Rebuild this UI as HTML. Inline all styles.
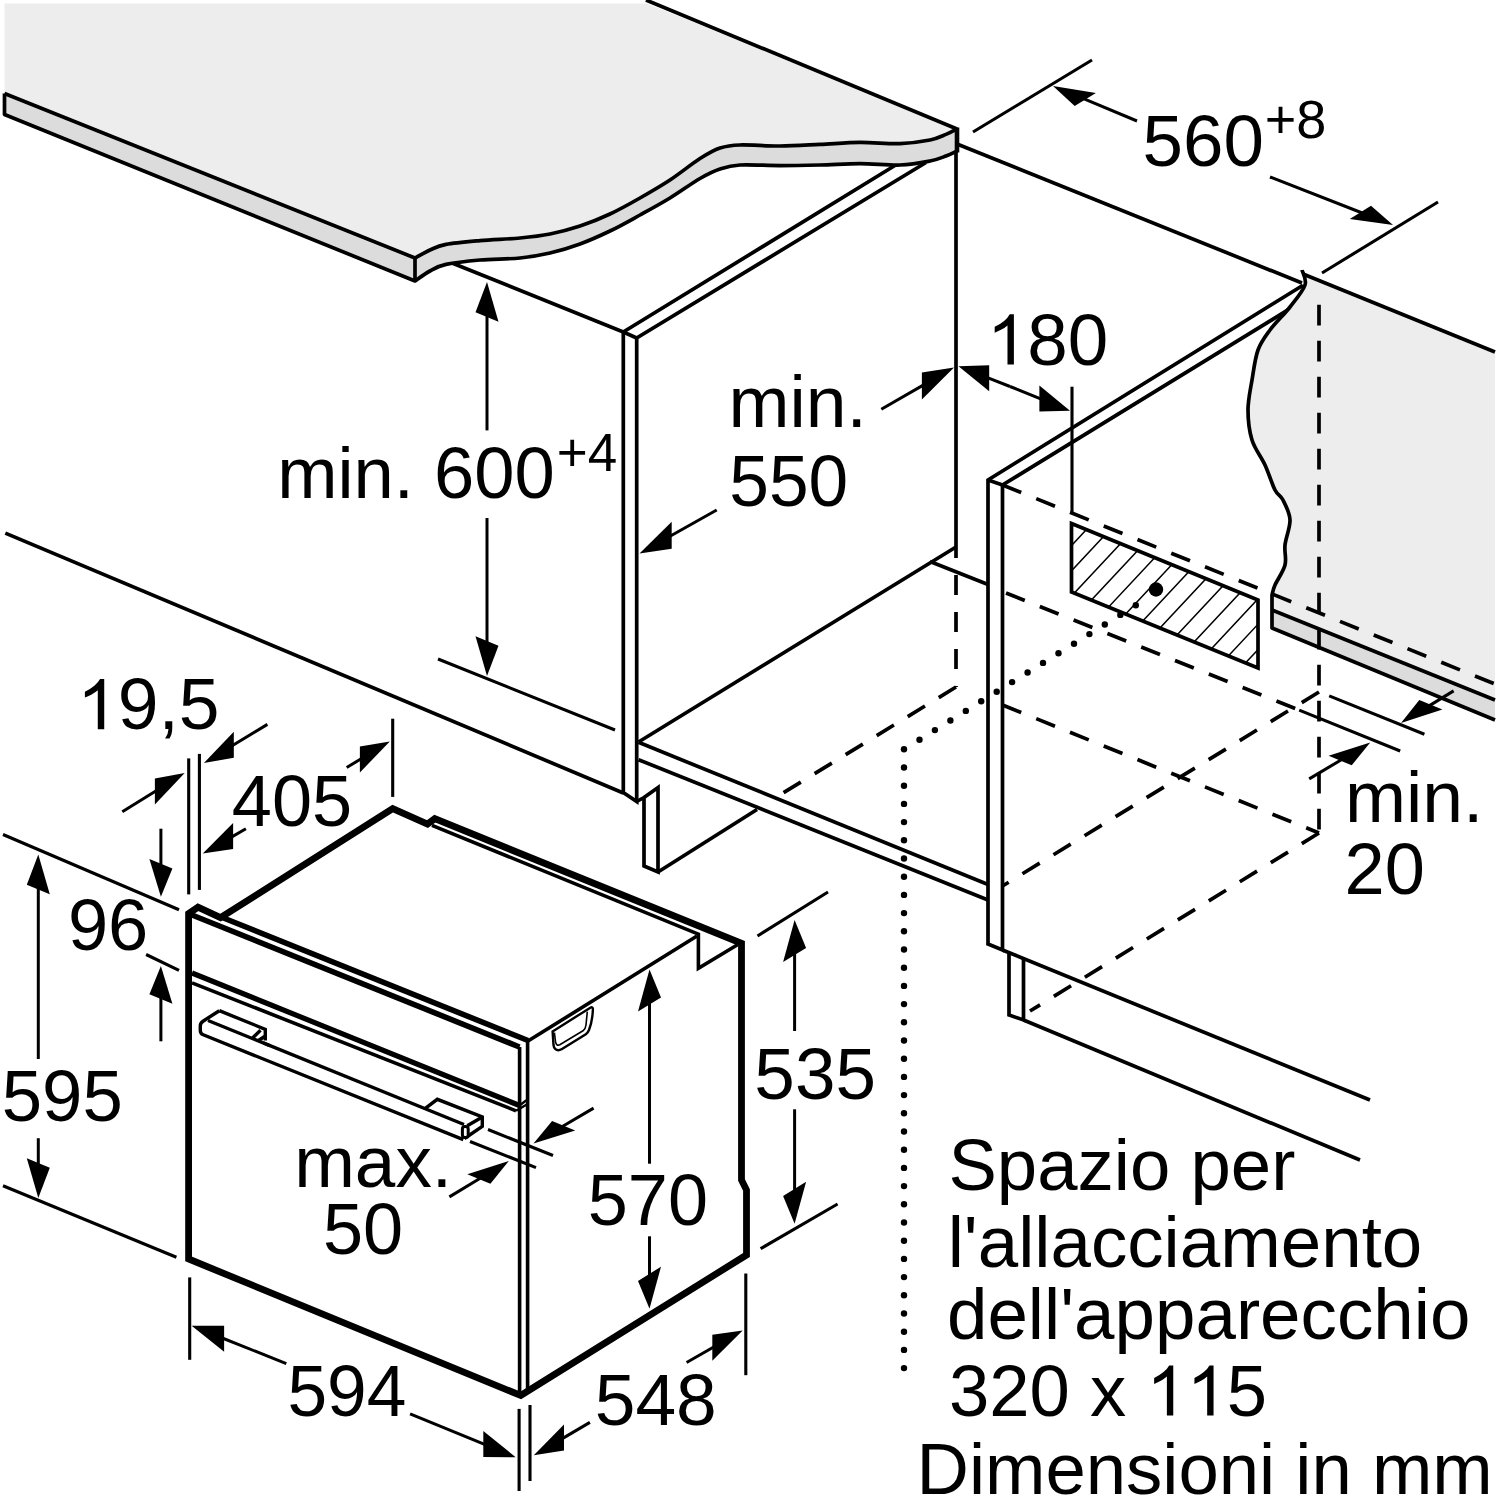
<!DOCTYPE html>
<html><head><meta charset="utf-8"><title>Schema di incasso</title>
<style>
html,body{margin:0;padding:0;background:#fff;}
svg{display:block;}
text{font-family:"Liberation Sans",sans-serif;fill:#000;}
</style></head>
<body>
<svg width="1500" height="1498" viewBox="0 0 1500 1498">
<rect width="1500" height="1498" fill="#fff"/>
<line x1="957.0" y1="144.0" x2="1302.0" y2="283.0" stroke="#000" stroke-width="3.7" stroke-linecap="butt"/>
<line x1="956.0" y1="129.0" x2="956.0" y2="558.0" stroke="#000" stroke-width="3.7" stroke-linecap="butt"/>
<line x1="956.0" y1="575.0" x2="956.0" y2="687.0" stroke="#000" stroke-width="3.7" stroke-linecap="butt" stroke-dasharray="20 17"/>
<line x1="452.0" y1="263.0" x2="623.3" y2="332.0" stroke="#000" stroke-width="3.7" stroke-linecap="butt"/>
<polyline points="899.0,163.0 623.3,332.0 623.3,792.5 636.7,801.5 636.7,338.0 926.0,162.5" fill="none" stroke="#000" stroke-width="3.7" stroke-linejoin="miter" stroke-linecap="butt"/>
<line x1="623.3" y1="332.0" x2="636.7" y2="338.0" stroke="#000" stroke-width="3.7" stroke-linecap="butt"/>
<line x1="5.3" y1="533.1" x2="623.3" y2="793.0" stroke="#000" stroke-width="3.7" stroke-linecap="butt"/>
<line x1="438.0" y1="659.0" x2="615.0" y2="730.0" stroke="#000" stroke-width="3.1" stroke-linecap="butt"/>
<polyline points="636.7,801.5 644.0,797.5 644.0,866.0 658.0,872.0 658.0,787.5 644.0,797.5" fill="none" stroke="#000" stroke-width="3.7" stroke-linejoin="miter" stroke-linecap="butt"/>
<line x1="658.0" y1="872.0" x2="757.0" y2="809.5" stroke="#000" stroke-width="3.7" stroke-linecap="butt"/>
<line x1="638.5" y1="742.3" x2="988.0" y2="884.5" stroke="#000" stroke-width="3.7" stroke-linecap="butt"/>
<line x1="638.5" y1="759.7" x2="988.0" y2="900.0" stroke="#000" stroke-width="3.7" stroke-linecap="butt"/>
<line x1="638.5" y1="742.0" x2="956.0" y2="547.0" stroke="#000" stroke-width="3.7" stroke-linecap="butt"/>
<line x1="930.0" y1="561.5" x2="988.0" y2="584.5" stroke="#000" stroke-width="3.7" stroke-linecap="butt"/>
<polyline points="1303.0,285.2 988.0,480.0 988.0,944.0 1002.5,950.0 1002.5,485.0 1290.0,308.7" fill="none" stroke="#000" stroke-width="3.7" stroke-linejoin="miter" stroke-linecap="butt"/>
<line x1="988.0" y1="480.0" x2="1002.5" y2="485.0" stroke="#000" stroke-width="3.7" stroke-linecap="butt"/>
<polyline points="1009.0,952.0 1009.0,1015.0 1023.5,1020.0 1023.5,959.0" fill="none" stroke="#000" stroke-width="3.7" stroke-linejoin="miter" stroke-linecap="butt"/>
<line x1="1002.5" y1="950.0" x2="1370.0" y2="1100.0" stroke="#000" stroke-width="3.7" stroke-linecap="butt"/>
<line x1="1023.5" y1="1020.0" x2="1360.0" y2="1160.0" stroke="#000" stroke-width="3.7" stroke-linecap="butt"/>
<path d="M4.5,3.5 L647,3.5 L957,129 C955.2,129.9 950.5,132.6 946.0,134.4 C941.5,136.2 937.7,138.5 930.0,140.0 C922.3,141.5 911.7,143.2 900.0,143.6 C888.3,144.0 873.3,142.3 860.0,142.4 C846.7,142.5 833.3,143.8 820.0,144.4 C806.7,145.0 793.3,145.9 780.0,146.0 C766.7,146.1 750.0,144.7 740.0,145.0 C730.0,145.3 726.7,145.8 720.0,148.0 C713.3,150.2 708.3,153.2 700.0,158.5 C691.7,163.8 680.0,173.4 670.0,180.0 C660.0,186.6 650.0,192.3 640.0,198.0 C630.0,203.7 620.0,209.3 610.0,214.0 C600.0,218.7 590.0,222.7 580.0,226.0 C570.0,229.3 560.0,232.0 550.0,234.0 C540.0,236.0 531.7,236.9 520.0,238.0 C508.3,239.1 492.3,239.5 480.0,240.6 C467.7,241.7 454.3,242.8 446.0,244.4 C437.7,246.0 435.2,247.7 430.0,250.0 C424.8,252.3 417.5,256.7 415.0,258.0 L4.5,93.5 Z" fill="#ededed" stroke="none"/>
<path d="M4.5,93.5 L415,258 C417.5,256.7 424.8,252.3 430.0,250.0 C435.2,247.7 437.7,246.0 446.0,244.4 C454.3,242.8 467.7,241.7 480.0,240.6 C492.3,239.5 508.3,239.1 520.0,238.0 C531.7,236.9 540.0,236.0 550.0,234.0 C560.0,232.0 570.0,229.3 580.0,226.0 C590.0,222.7 600.0,218.7 610.0,214.0 C620.0,209.3 630.0,203.7 640.0,198.0 C650.0,192.3 660.0,186.6 670.0,180.0 C680.0,173.4 691.7,163.8 700.0,158.5 C708.3,153.2 713.3,150.2 720.0,148.0 C726.7,145.8 730.0,145.3 740.0,145.0 C750.0,144.7 766.7,146.1 780.0,146.0 C793.3,145.9 806.7,145.0 820.0,144.4 C833.3,143.8 846.7,142.5 860.0,142.4 C873.3,142.3 888.3,144.0 900.0,143.6 C911.7,143.2 922.3,141.5 930.0,140.0 C937.7,138.5 941.5,136.2 946.0,134.4 C950.5,132.6 955.2,129.9 957.0,129.0 L957,151 C955.2,151.8 950.5,154.3 946.0,156.0 C941.5,157.7 937.7,159.5 930.0,161.0 C922.3,162.5 911.7,164.6 900.0,165.0 C888.3,165.4 873.3,163.6 860.0,163.6 C846.7,163.6 833.3,164.7 820.0,165.0 C806.7,165.3 793.3,165.6 780.0,165.6 C766.7,165.6 750.0,164.4 740.0,165.0 C730.0,165.6 726.7,166.8 720.0,169.0 C713.3,171.2 708.3,173.7 700.0,178.5 C691.7,183.3 680.0,191.9 670.0,198.0 C660.0,204.1 650.0,209.5 640.0,215.0 C630.0,220.5 620.0,226.2 610.0,231.0 C600.0,235.8 590.0,240.3 580.0,244.0 C570.0,247.7 560.0,250.7 550.0,253.0 C540.0,255.3 531.7,256.8 520.0,258.0 C508.3,259.2 492.3,258.9 480.0,260.0 C467.7,261.1 454.3,262.6 446.0,264.4 C437.7,266.2 435.2,268.2 430.0,271.0 C424.8,273.8 417.5,279.3 415.0,281.0 L4.5,114.5 Z" fill="#dcdcdc" stroke="none"/>
<path d="M4.5,93.5 L415,258 C417.5,256.7 424.8,252.3 430.0,250.0 C435.2,247.7 437.7,246.0 446.0,244.4 C454.3,242.8 467.7,241.7 480.0,240.6 C492.3,239.5 508.3,239.1 520.0,238.0 C531.7,236.9 540.0,236.0 550.0,234.0 C560.0,232.0 570.0,229.3 580.0,226.0 C590.0,222.7 600.0,218.7 610.0,214.0 C620.0,209.3 630.0,203.7 640.0,198.0 C650.0,192.3 660.0,186.6 670.0,180.0 C680.0,173.4 691.7,163.8 700.0,158.5 C708.3,153.2 713.3,150.2 720.0,148.0 C726.7,145.8 730.0,145.3 740.0,145.0 C750.0,144.7 766.7,146.1 780.0,146.0 C793.3,145.9 806.7,145.0 820.0,144.4 C833.3,143.8 846.7,142.5 860.0,142.4 C873.3,142.3 888.3,144.0 900.0,143.6 C911.7,143.2 922.3,141.5 930.0,140.0 C937.7,138.5 941.5,136.2 946.0,134.4 C950.5,132.6 955.2,129.9 957.0,129.0" fill="none" stroke="#000" stroke-width="3.7" stroke-linejoin="round"/>
<path d="M4.5,93.5 L4.5,114.5 L415,281 C417.5,279.3 424.8,273.8 430.0,271.0 C435.2,268.2 437.7,266.2 446.0,264.4 C454.3,262.6 467.7,261.1 480.0,260.0 C492.3,258.9 508.3,259.2 520.0,258.0 C531.7,256.8 540.0,255.3 550.0,253.0 C560.0,250.7 570.0,247.7 580.0,244.0 C590.0,240.3 600.0,235.8 610.0,231.0 C620.0,226.2 630.0,220.5 640.0,215.0 C650.0,209.5 660.0,204.1 670.0,198.0 C680.0,191.9 691.7,183.3 700.0,178.5 C708.3,173.7 713.3,171.2 720.0,169.0 C726.7,166.8 730.0,165.6 740.0,165.0 C750.0,164.4 766.7,165.6 780.0,165.6 C793.3,165.6 806.7,165.3 820.0,165.0 C833.3,164.7 846.7,163.6 860.0,163.6 C873.3,163.6 888.3,165.4 900.0,165.0 C911.7,164.6 922.3,162.5 930.0,161.0 C937.7,159.5 941.5,157.7 946.0,156.0 C950.5,154.3 955.2,151.8 957.0,151.0" fill="none" stroke="#000" stroke-width="3.7" stroke-linejoin="round"/>
<line x1="415.0" y1="258.0" x2="415.0" y2="281.0" stroke="#000" stroke-width="3.7" stroke-linecap="butt"/>
<line x1="957.0" y1="127.5" x2="957.0" y2="152.5" stroke="#000" stroke-width="4.6" stroke-linecap="butt"/>
<line x1="646.0" y1="0.0" x2="957.0" y2="129.0" stroke="#000" stroke-width="3.7" stroke-linecap="butt"/>
<path d="M1495,352 L1305,275 L1302,270 C1302.5,272.5 1307.0,278.8 1305.0,285.0 C1303.0,291.2 1295.8,299.5 1290.0,307.0 C1284.2,314.5 1275.3,322.8 1270.0,330.0 C1264.7,337.2 1261.0,341.7 1258.0,350.0 C1255.0,358.3 1253.7,370.0 1252.0,380.0 C1250.3,390.0 1248.0,400.0 1248.0,410.0 C1248.0,420.0 1249.2,430.8 1252.0,440.0 C1254.8,449.2 1261.2,456.7 1265.0,465.0 C1268.8,473.3 1272.0,484.2 1275.0,490.0 C1278.0,495.8 1280.5,495.0 1283.0,500.0 C1285.5,505.0 1289.7,512.5 1290.0,520.0 C1290.3,527.5 1285.8,537.5 1285.0,545.0 C1284.2,552.5 1286.7,558.3 1285.0,565.0 C1283.3,571.7 1277.2,580.0 1275.0,585.0 C1272.8,590.0 1272.5,593.3 1272.0,595.0 L1272,610 L1495,700 Z" fill="#ededed" stroke="none"/>
<path d="M1272,610 L1495,700 L1495,720 L1272,628 Z" fill="#dcdcdc" stroke="none"/>
<path d="M1302.0,270.0 C1302.5,272.5 1307.0,278.8 1305.0,285.0 C1303.0,291.2 1295.8,299.5 1290.0,307.0 C1284.2,314.5 1275.3,322.8 1270.0,330.0 C1264.7,337.2 1261.0,341.7 1258.0,350.0 C1255.0,358.3 1253.7,370.0 1252.0,380.0 C1250.3,390.0 1248.0,400.0 1248.0,410.0 C1248.0,420.0 1249.2,430.8 1252.0,440.0 C1254.8,449.2 1261.2,456.7 1265.0,465.0 C1268.8,473.3 1272.0,484.2 1275.0,490.0 C1278.0,495.8 1280.5,495.0 1283.0,500.0 C1285.5,505.0 1289.7,512.5 1290.0,520.0 C1290.3,527.5 1285.8,537.5 1285.0,545.0 C1284.2,552.5 1286.7,558.3 1285.0,565.0 C1283.3,571.7 1277.2,580.0 1275.0,585.0 C1272.8,590.0 1272.5,593.3 1272.0,595.0 L1272,628 L1495,720" fill="none" stroke="#000" stroke-width="3.7" stroke-linejoin="round"/>
<line x1="1272.0" y1="610.0" x2="1495.0" y2="700.0" stroke="#000" stroke-width="3.7" stroke-linecap="butt"/>
<line x1="1303.0" y1="274.0" x2="1495.0" y2="352.0" stroke="#000" stroke-width="3.7" stroke-linecap="butt"/>
<line x1="1002.5" y1="485.0" x2="1495.0" y2="684.0" stroke="#000" stroke-width="3.7" stroke-linecap="butt" stroke-dasharray="20.2 16.2"/>
<line x1="1006.0" y1="593.0" x2="1299.0" y2="710.0" stroke="#000" stroke-width="3.7" stroke-linecap="butt" stroke-dasharray="20.2 16.2"/>
<line x1="1002.5" y1="705.0" x2="1319.0" y2="833.0" stroke="#000" stroke-width="3.7" stroke-linecap="butt" stroke-dasharray="20.2 16.2"/>
<line x1="1319.0" y1="304.7" x2="1319.0" y2="835.0" stroke="#000" stroke-width="3.7" stroke-linecap="butt" stroke-dasharray="20.8 15.2"/>
<line x1="1319.0" y1="692.0" x2="1002.5" y2="886.0" stroke="#000" stroke-width="3.7" stroke-linecap="butt" stroke-dasharray="20.2 16.2"/>
<line x1="1319.0" y1="833.0" x2="1030.0" y2="1011.0" stroke="#000" stroke-width="3.7" stroke-linecap="butt" stroke-dasharray="20.2 16.2"/>
<line x1="956.0" y1="687.0" x2="783.0" y2="793.0" stroke="#000" stroke-width="3.7" stroke-linecap="butt" stroke-dasharray="20.2 16.2"/>
<line x1="1329.2" y1="695.9" x2="1424.4" y2="734.3" stroke="#000" stroke-width="3.1" stroke-linecap="butt"/>
<line x1="1299.2" y1="710.1" x2="1400.2" y2="751.0" stroke="#000" stroke-width="3.1" stroke-linecap="butt"/>
<line x1="1072.0" y1="386.7" x2="1072.0" y2="513.0" stroke="#000" stroke-width="3.1" stroke-linecap="butt"/>
<clipPath id="hc"><polygon points="1071.5,523.5 1258,600 1258,668 1071.5,592"/></clipPath>
<path d="M1089.3,400 L715.4,800 M1112.9,400 L739.1,800 M1136.5,400 L762.7,800 M1160.2,400 L786.4,800 M1183.8,400 L810.0,800 M1207.5,400 L833.6,800 M1231.1,400 L857.3,800 M1254.8,400 L880.9,800 M1278.4,400 L904.6,800 M1302.1,400 L928.2,800 M1325.7,400 L951.9,800 M1349.3,400 L975.5,800 M1373.0,400 L999.2,800 M1396.6,400 L1022.8,800 M1420.3,400 L1046.4,800 M1443.9,400 L1070.1,800 M1467.6,400 L1093.7,800 M1491.2,400 L1117.4,800 M1514.9,400 L1141.0,800 M1538.5,400 L1164.7,800 M1562.1,400 L1188.3,800 M1585.8,400 L1212.0,800 M1609.4,400 L1235.6,800 M1633.1,400 L1259.3,800 M1656.7,400 L1282.9,800 M1680.4,400 L1306.5,800 M1704.0,400 L1330.2,800 M1727.7,400 L1353.8,800 M1751.3,400 L1377.5,800 M1775.0,400 L1401.1,800 M1798.6,400 L1424.8,800 M1822.2,400 L1448.4,800 M1845.9,400 L1472.1,800 M1869.5,400 L1495.7,800 M1893.2,400 L1519.3,800" stroke="#000" stroke-width="1.5" fill="none" clip-path="url(#hc)"/>
<polygon points="1071.5,523.5 1258.0,600.0 1258.0,668.0 1071.5,592.0" fill="none" stroke="#000" stroke-width="3.7" stroke-linejoin="miter" stroke-linecap="butt"/>
<circle cx="1156" cy="589.5" r="7.2" fill="#000"/>
<circle cx="904.0" cy="749.3" r="3.2" fill="#000"/>
<circle cx="919.5" cy="739.7" r="3.2" fill="#000"/>
<circle cx="934.9" cy="730.1" r="3.2" fill="#000"/>
<circle cx="950.4" cy="720.5" r="3.2" fill="#000"/>
<circle cx="965.8" cy="710.9" r="3.2" fill="#000"/>
<circle cx="981.2" cy="701.3" r="3.2" fill="#000"/>
<circle cx="996.7" cy="691.7" r="3.2" fill="#000"/>
<circle cx="1012.1" cy="682.1" r="3.2" fill="#000"/>
<circle cx="1027.6" cy="672.5" r="3.2" fill="#000"/>
<circle cx="1043.0" cy="662.9" r="3.2" fill="#000"/>
<circle cx="1058.5" cy="653.3" r="3.2" fill="#000"/>
<circle cx="1074.0" cy="643.7" r="3.2" fill="#000"/>
<circle cx="1089.4" cy="634.1" r="3.2" fill="#000"/>
<circle cx="1104.8" cy="624.5" r="3.2" fill="#000"/>
<circle cx="1120.3" cy="614.9" r="3.2" fill="#000"/>
<circle cx="1135.8" cy="605.3" r="3.2" fill="#000"/>
<circle cx="904" cy="767.5" r="3.2" fill="#000"/>
<circle cx="904" cy="785.7" r="3.2" fill="#000"/>
<circle cx="904" cy="803.9" r="3.2" fill="#000"/>
<circle cx="904" cy="822.1" r="3.2" fill="#000"/>
<circle cx="904" cy="840.3" r="3.2" fill="#000"/>
<circle cx="904" cy="858.5" r="3.2" fill="#000"/>
<circle cx="904" cy="876.7" r="3.2" fill="#000"/>
<circle cx="904" cy="894.9" r="3.2" fill="#000"/>
<circle cx="904" cy="913.1" r="3.2" fill="#000"/>
<circle cx="904" cy="931.3" r="3.2" fill="#000"/>
<circle cx="904" cy="949.5" r="3.2" fill="#000"/>
<circle cx="904" cy="967.7" r="3.2" fill="#000"/>
<circle cx="904" cy="985.9" r="3.2" fill="#000"/>
<circle cx="904" cy="1004.1" r="3.2" fill="#000"/>
<circle cx="904" cy="1022.3" r="3.2" fill="#000"/>
<circle cx="904" cy="1040.5" r="3.2" fill="#000"/>
<circle cx="904" cy="1058.7" r="3.2" fill="#000"/>
<circle cx="904" cy="1076.9" r="3.2" fill="#000"/>
<circle cx="904" cy="1095.1" r="3.2" fill="#000"/>
<circle cx="904" cy="1113.3" r="3.2" fill="#000"/>
<circle cx="904" cy="1131.5" r="3.2" fill="#000"/>
<circle cx="904" cy="1149.7" r="3.2" fill="#000"/>
<circle cx="904" cy="1167.9" r="3.2" fill="#000"/>
<circle cx="904" cy="1186.1" r="3.2" fill="#000"/>
<circle cx="904" cy="1204.3" r="3.2" fill="#000"/>
<circle cx="904" cy="1222.5" r="3.2" fill="#000"/>
<circle cx="904" cy="1240.7" r="3.2" fill="#000"/>
<circle cx="904" cy="1258.9" r="3.2" fill="#000"/>
<circle cx="904" cy="1277.1" r="3.2" fill="#000"/>
<circle cx="904" cy="1295.3" r="3.2" fill="#000"/>
<circle cx="904" cy="1313.5" r="3.2" fill="#000"/>
<circle cx="904" cy="1331.7" r="3.2" fill="#000"/>
<circle cx="904" cy="1349.9" r="3.2" fill="#000"/>
<circle cx="904" cy="1368.1" r="3.2" fill="#000"/>
<polygon points="188.6,913.6 198.0,907.2 220.5,917.6 392.7,808.7 427.5,824.1 434.8,818.7 741.5,943.4 741.5,1180.0 746.5,1190.0 746.5,1255.0 520.8,1395.5 188.6,1259.0 188.6,913.6" fill="none" stroke="#000" stroke-width="6.8" stroke-linejoin="miter" stroke-linecap="butt"/>
<line x1="221.0" y1="917.0" x2="528.0" y2="1040.5" stroke="#000" stroke-width="5.6" stroke-linecap="butt"/>
<line x1="192.0" y1="915.0" x2="519.5" y2="1047.0" stroke="#000" stroke-width="5.6" stroke-linecap="butt"/>
<line x1="192.0" y1="973.0" x2="519.5" y2="1105.5" stroke="#000" stroke-width="5.2" stroke-linecap="butt"/>
<line x1="192.0" y1="982.8" x2="516.0" y2="1110.8" stroke="#000" stroke-width="3.6" stroke-linecap="butt"/>
<line x1="519.6" y1="1047.0" x2="519.6" y2="1394.0" stroke="#000" stroke-width="3.6" stroke-linecap="butt"/>
<line x1="527.6" y1="1040.0" x2="527.6" y2="1392.0" stroke="#000" stroke-width="3.6" stroke-linecap="butt"/>
<line x1="527.6" y1="1041.3" x2="697.0" y2="936.0" stroke="#000" stroke-width="3.6" stroke-linecap="butt"/>
<polyline points="432.0,825.4 698.4,934.1 698.4,968.2 737.5,944.8" fill="none" stroke="#000" stroke-width="3.6" stroke-linejoin="miter" stroke-linecap="butt"/>
<line x1="519.5" y1="1105.5" x2="526.4" y2="1100.2" stroke="#000" stroke-width="2.4" stroke-linecap="butt"/>
<line x1="516.0" y1="1110.8" x2="526.4" y2="1104.8" stroke="#000" stroke-width="2.4" stroke-linecap="butt"/>
<path d="M208,1020.5 L464,1124.5" fill="none" stroke="#000" stroke-width="3.4"/>
<path d="M219.3,1010.7 L203,1021.2 Q200.3,1023 200.3,1026 L200.3,1030.5 Q200.3,1033.6 203.2,1034.8 L463.3,1139.7" fill="none" stroke="#000" stroke-width="3.4" stroke-linejoin="round"/>
<polyline points="219.3,1010.7 265.3,1029.3 265.3,1040.5" fill="none" stroke="#000" stroke-width="3.4" stroke-linejoin="miter" stroke-linecap="butt"/>
<line x1="260.5" y1="1030.3" x2="252.5" y2="1038.0" stroke="#000" stroke-width="3.4" stroke-linecap="butt"/>
<line x1="265.3" y1="1036.0" x2="258.5" y2="1040.5" stroke="#000" stroke-width="3.4" stroke-linecap="butt"/>
<line x1="263.5" y1="1043.0" x2="270.0" y2="1045.7" stroke="#000" stroke-width="3.4" stroke-linecap="butt"/>
<polyline points="425.3,1108.3 437.3,1099.3 482.3,1117.0 482.3,1126.3 464.5,1138.5" fill="none" stroke="#000" stroke-width="3.4" stroke-linejoin="miter" stroke-linecap="butt"/>
<line x1="482.3" y1="1117.0" x2="467.3" y2="1125.8" stroke="#000" stroke-width="3.4" stroke-linecap="butt"/>
<rect x="462.4" y="1126.5" width="5.8" height="11" rx="2.6" fill="#fff" stroke="#000" stroke-width="3"/>
<path d="M552.6,1031.4 L590.3,1007.7 Q592.9,1006.4 592.9,1009.3 C592.6,1017 591,1025 589,1030 Q588,1032.6 585.8,1034.2 L562,1049 Q558,1051.4 555.4,1049.2 Q553.8,1047.8 553.5,1045 Z" fill="none" stroke="#000" stroke-width="2.4" stroke-linejoin="miter"/>
<path d="M554.4,1032.6 L555.5,1041.7 Q556.2,1046.3 559.8,1044.8 L583,1030.8 Q585.6,1029 586,1025 L587.3,1011.6" fill="none" stroke="#000" stroke-width="1.6"/>
<line x1="973.0" y1="132.0" x2="1092.0" y2="60.0" stroke="#000" stroke-width="3.1" stroke-linecap="butt"/>
<line x1="1322.0" y1="273.0" x2="1438.0" y2="202.0" stroke="#000" stroke-width="3.1" stroke-linecap="butt"/>
<polygon points="1053.0,86.0 1095.9,92.9 1074.7,106.0" fill="#000"/>
<line x1="1083.5" y1="98.7" x2="1137.0" y2="121.0" stroke="#000" stroke-width="3.0" stroke-linecap="butt"/>
<polygon points="1393.0,225.0 1371.0,205.7 1349.8,218.9" fill="#000"/>
<line x1="1362.3" y1="213.0" x2="1270.0" y2="177.0" stroke="#000" stroke-width="3.0" stroke-linecap="butt"/>
<text transform="translate(1142.57,165.50) scale(1.0105,1)" font-size="72">560</text>
<text transform="translate(1264.65,137.71) scale(1.0189,1)" font-size="53">+8</text>
<polygon points="954.0,367.5 921.9,399.4 921.9,372.4" fill="#000"/>
<line x1="923.7" y1="384.9" x2="881.3" y2="409.3" stroke="#000" stroke-width="3.0" stroke-linecap="butt"/>
<polygon points="639.5,553.5 671.7,548.8 671.7,521.8" fill="#000"/>
<line x1="670.0" y1="536.3" x2="716.7" y2="510.0" stroke="#000" stroke-width="3.0" stroke-linecap="butt"/>
<text transform="translate(728.42,426.70) scale(1.0169,1)" font-size="72">min.</text>
<text transform="translate(729.23,505.90) scale(0.9904,1)" font-size="72">550</text>
<polygon points="958.5,366.3 989.2,391.3 989.2,365.3" fill="#000"/>
<line x1="987.4" y1="377.6" x2="1010.0" y2="386.5" stroke="#000" stroke-width="3.0" stroke-linecap="butt"/>
<polygon points="1070.0,410.7 1039.4,411.4 1039.4,385.4" fill="#000"/>
<line x1="1041.3" y1="399.1" x2="1010.0" y2="386.5" stroke="#000" stroke-width="3.0" stroke-linecap="butt"/>
<g transform="translate(986.77,364.50) scale(1.0109,1)"><path transform="translate(0.00,0) scale(72,-69.840)" d="M0.3726,0 L0.2847,0 L0.2847,0.5601 Q0.2529,0.5298 0.2014,0.4995 Q0.1499,0.4692 0.1089,0.4541 L0.1089,0.5391 Q0.1826,0.5737 0.2378,0.6230 Q0.2930,0.6724 0.3159,0.7188 L0.3726,0.7188 Z" fill="#000"/><text x="40.05" y="0" font-size="72" xml:space="preserve">80</text></g>
<polygon points="487.0,282.0 498.5,321.8 475.5,312.2" fill="#000"/>
<line x1="487.0" y1="315.0" x2="487.0" y2="430.4" stroke="#000" stroke-width="3.0" stroke-linecap="butt"/>
<polygon points="487.0,676.0 498.5,645.8 475.5,636.2" fill="#000"/>
<line x1="487.0" y1="643.0" x2="487.0" y2="518.0" stroke="#000" stroke-width="3.0" stroke-linecap="butt"/>
<text transform="translate(277.17,497.50) scale(1.0052,1)" font-size="72">min. 600</text>
<text transform="translate(556.70,471.20) scale(0.9890,1)" font-size="53.6">+4</text>
<line x1="188.7" y1="758.4" x2="188.7" y2="894.4" stroke="#000" stroke-width="3.1" stroke-linecap="butt"/>
<line x1="199.4" y1="753.9" x2="199.4" y2="889.9" stroke="#000" stroke-width="3.1" stroke-linecap="butt"/>
<polygon points="203.9,762.9 233.8,757.8 233.8,731.8" fill="#000"/>
<line x1="232.1" y1="745.8" x2="267.4" y2="724.4" stroke="#000" stroke-width="3.0" stroke-linecap="butt"/>
<polygon points="184.7,773.1 154.9,804.5 154.9,778.5" fill="#000"/>
<line x1="156.6" y1="790.5" x2="122.3" y2="811.7" stroke="#000" stroke-width="3.0" stroke-linecap="butt"/>
<g transform="translate(76.92,729.30) scale(1.0178,1)"><path transform="translate(0.00,0) scale(72,-69.840)" d="M0.3726,0 L0.2847,0 L0.2847,0.5601 Q0.2529,0.5298 0.2014,0.4995 Q0.1499,0.4692 0.1089,0.4541 L0.1089,0.5391 Q0.1826,0.5737 0.2378,0.6230 Q0.2930,0.6724 0.3159,0.7188 L0.3726,0.7188 Z" fill="#000"/><text x="40.05" y="0" font-size="72" xml:space="preserve">9,5</text></g>
<line x1="392.7" y1="718.7" x2="392.7" y2="796.9" stroke="#000" stroke-width="3.1" stroke-linecap="butt"/>
<polygon points="389.8,741.4 359.9,772.5 359.9,746.5" fill="#000"/>
<line x1="361.6" y1="758.5" x2="346.7" y2="767.5" stroke="#000" stroke-width="3.0" stroke-linecap="butt"/>
<polygon points="202.8,853.6 233.1,849.1 233.1,823.1" fill="#000"/>
<line x1="231.4" y1="837.1" x2="245.9" y2="828.7" stroke="#000" stroke-width="3.0" stroke-linecap="butt"/>
<text transform="translate(231.80,825.60) scale(1.0017,1)" font-size="72">405</text>
<polygon points="160.9,896.7 172.4,868.5 149.4,858.9" fill="#000"/>
<line x1="160.9" y1="865.7" x2="160.9" y2="828.7" stroke="#000" stroke-width="3.0" stroke-linecap="butt"/>
<polygon points="160.9,966.0 172.4,1003.8 149.4,994.2" fill="#000"/>
<line x1="160.9" y1="997.0" x2="160.9" y2="1041.3" stroke="#000" stroke-width="3.0" stroke-linecap="butt"/>
<text transform="translate(67.89,950.20) scale(1.0041,1)" font-size="72">96</text>
<line x1="3.0" y1="834.5" x2="179.0" y2="909.8" stroke="#000" stroke-width="3.1" stroke-linecap="butt"/>
<line x1="146.1" y1="954.5" x2="179.0" y2="970.3" stroke="#000" stroke-width="3.1" stroke-linecap="butt"/>
<polygon points="38.3,854.5 49.8,894.3 26.8,884.7" fill="#000"/>
<line x1="38.3" y1="887.5" x2="38.3" y2="1059.0" stroke="#000" stroke-width="3.0" stroke-linecap="butt"/>
<polygon points="38.3,1198.0 49.8,1167.8 26.8,1158.2" fill="#000"/>
<line x1="38.3" y1="1165.0" x2="38.3" y2="1138.2" stroke="#000" stroke-width="3.0" stroke-linecap="butt"/>
<text transform="translate(1.78,1121.40) scale(1.0070,1)" font-size="72">595</text>
<line x1="3.0" y1="1185.7" x2="176.4" y2="1257.2" stroke="#000" stroke-width="3.1" stroke-linecap="butt"/>
<line x1="189.7" y1="1277.4" x2="189.7" y2="1359.8" stroke="#000" stroke-width="3.1" stroke-linecap="butt"/>
<polygon points="191.6,1325.7 224.1,1351.7 224.1,1325.7" fill="#000"/>
<line x1="222.2" y1="1338.0" x2="286.3" y2="1363.6" stroke="#000" stroke-width="3.0" stroke-linecap="butt"/>
<polygon points="515.7,1457.2 483.3,1456.9 483.3,1430.9" fill="#000"/>
<line x1="485.2" y1="1444.7" x2="410.1" y2="1413.9" stroke="#000" stroke-width="3.0" stroke-linecap="butt"/>
<text transform="translate(287.43,1415.80) scale(0.9905,1)" font-size="72">594</text>
<line x1="519.1" y1="1408.9" x2="519.1" y2="1491.0" stroke="#000" stroke-width="3.1" stroke-linecap="butt"/>
<line x1="530.0" y1="1405.0" x2="530.0" y2="1481.0" stroke="#000" stroke-width="3.1" stroke-linecap="butt"/>
<line x1="745.8" y1="1273.5" x2="745.8" y2="1375.2" stroke="#000" stroke-width="3.1" stroke-linecap="butt"/>
<polygon points="742.7,1330.4 712.3,1360.8 712.3,1334.8" fill="#000"/>
<line x1="714.1" y1="1346.8" x2="686.6" y2="1362.5" stroke="#000" stroke-width="3.0" stroke-linecap="butt"/>
<polygon points="533.8,1455.3 564.0,1450.6 564.0,1424.6" fill="#000"/>
<line x1="562.3" y1="1438.6" x2="589.9" y2="1422.4" stroke="#000" stroke-width="3.0" stroke-linecap="butt"/>
<text transform="translate(594.76,1424.70) scale(1.0158,1)" font-size="72">548</text>
<polygon points="649.5,969.5 661.0,997.4 638.0,1011.6" fill="#000"/>
<line x1="649.5" y1="1002.5" x2="649.5" y2="1163.7" stroke="#000" stroke-width="3.0" stroke-linecap="butt"/>
<polygon points="649.5,1308.8 661.0,1266.7 638.0,1280.9" fill="#000"/>
<line x1="649.5" y1="1275.8" x2="649.5" y2="1236.3" stroke="#000" stroke-width="3.0" stroke-linecap="butt"/>
<text transform="translate(587.80,1225.20) scale(1.0009,1)" font-size="72">570</text>
<line x1="757.5" y1="936.0" x2="828.0" y2="892.0" stroke="#000" stroke-width="3.1" stroke-linecap="butt"/>
<line x1="760.6" y1="1248.7" x2="837.6" y2="1204.0" stroke="#000" stroke-width="3.1" stroke-linecap="butt"/>
<polygon points="794.6,920.0 806.1,947.9 783.1,962.1" fill="#000"/>
<line x1="794.6" y1="953.0" x2="794.6" y2="1031.0" stroke="#000" stroke-width="3.0" stroke-linecap="butt"/>
<polygon points="794.6,1223.8 806.1,1181.7 783.1,1195.9" fill="#000"/>
<line x1="794.6" y1="1190.8" x2="794.6" y2="1109.3" stroke="#000" stroke-width="3.0" stroke-linecap="butt"/>
<text transform="translate(754.37,1099.00) scale(1.0123,1)" font-size="72">535</text>
<line x1="488.0" y1="1129.5" x2="553.0" y2="1155.5" stroke="#000" stroke-width="3.1" stroke-linecap="butt"/>
<line x1="470.0" y1="1141.5" x2="536.0" y2="1167.6" stroke="#000" stroke-width="3.1" stroke-linecap="butt"/>
<polygon points="533.5,1143.5 575.2,1130.5 552.1,1121.0" fill="#000"/>
<line x1="561.9" y1="1126.8" x2="593.6" y2="1108.1" stroke="#000" stroke-width="3.0" stroke-linecap="butt"/>
<polygon points="508.8,1160.9 490.4,1183.8 467.3,1174.3" fill="#000"/>
<line x1="480.6" y1="1178.0" x2="449.4" y2="1196.9" stroke="#000" stroke-width="3.0" stroke-linecap="butt"/>
<text transform="translate(294.14,1186.60) scale(1.0124,1)" font-size="72">max.</text>
<text transform="translate(323.00,1253.90) scale(1.0013,1)" font-size="72">50</text>
<polygon points="1401.0,723.1 1442.4,709.6 1419.3,700.0" fill="#000"/>
<line x1="1429.1" y1="705.9" x2="1453.6" y2="690.9" stroke="#000" stroke-width="3.0" stroke-linecap="butt"/>
<polygon points="1370.2,742.6 1351.7,765.3 1328.6,755.7" fill="#000"/>
<line x1="1341.8" y1="759.5" x2="1309.2" y2="778.9" stroke="#000" stroke-width="3.0" stroke-linecap="butt"/>
<text transform="translate(1344.91,822.30) scale(1.0185,1)" font-size="72">min.</text>
<text transform="translate(1344.49,894.30) scale(1.0027,1)" font-size="72">20</text>
<text transform="translate(948.48,1189.70) scale(1.0077,1)" font-size="72">Spazio per</text>
<text transform="translate(947.65,1267.20) scale(1.0100,1)" font-size="72">l&#39;allacciamento</text>
<text transform="translate(946.97,1339.30) scale(1.0105,1)" font-size="72">dell&#39;apparecchio</text>
<g transform="translate(948.88,1415.60) scale(1.0063,1)"><text x="0.00" y="0" font-size="72" xml:space="preserve">320 x </text><path transform="translate(196.14,0) scale(72,-69.840)" d="M0.3726,0 L0.2847,0 L0.2847,0.5601 Q0.2529,0.5298 0.2014,0.4995 Q0.1499,0.4692 0.1089,0.4541 L0.1089,0.5391 Q0.1826,0.5737 0.2378,0.6230 Q0.2930,0.6724 0.3159,0.7188 L0.3726,0.7188 Z" fill="#000"/><path transform="translate(236.18,0) scale(72,-69.840)" d="M0.3726,0 L0.2847,0 L0.2847,0.5601 Q0.2529,0.5298 0.2014,0.4995 Q0.1499,0.4692 0.1089,0.4541 L0.1089,0.5391 Q0.1826,0.5737 0.2378,0.6230 Q0.2930,0.6724 0.3159,0.7188 L0.3726,0.7188 Z" fill="#000"/><text x="276.23" y="0" font-size="72" xml:space="preserve">5</text></g>
<text transform="translate(916.56,1493.60) scale(1.0071,1)" font-size="72">Dimensioni in mm</text>
</svg>
</body></html>
